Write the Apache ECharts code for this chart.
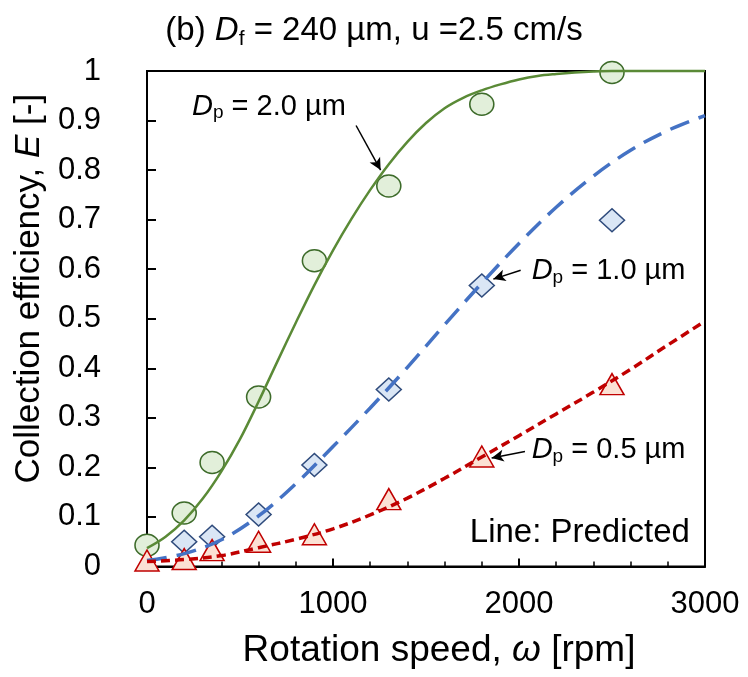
<!DOCTYPE html>
<html><head><meta charset="utf-8">
<script src="https://cdn.jsdelivr.net/npm/echarts/dist/echarts.min.js"></script>
<style>html,body{margin:0;padding:0;background:#fff}#c{width:748px;height:677px}</style>
</head><body><div id="c"></div>
<script>
// ---- measured data ----
const rpmMeasured = [0, 200, 350, 600, 900, 1300, 1800, 2500];
const effMeasured20 = [0.043, 0.108, 0.21, 0.342, 0.617, 0.768, 0.933, 0.997];
const rpmMeasured10 = [200, 350, 600, 900, 1300, 1800, 2500];
const effMeasured10 = [0.05, 0.06, 0.105, 0.205, 0.357, 0.567, 0.699];
const effMeasured05 = [0.012, 0.015, 0.033, 0.05, 0.065, 0.136, 0.222, 0.368];

// ---- predicted curves ----
const rpmPred20 = [0,100,200,300,400,500,600,700,800,900,1000,1100,1200,1300,1400,1500,1600,1700,1800,1900,2000,2100,2200,2300,2400,2500,2600,2700,2800,2900,3000];
const effPred20 = [0.037,0.06,0.093,0.137,0.192,0.257,0.333,0.413,0.492,0.568,0.638,0.702,0.76,0.812,0.857,0.895,0.925,0.946,0.961,0.973,0.983,0.99,0.994,0.997,0.999,1.0,1.0,1.0,1.0,1.0,1.0];
const rpmPred10 = [0,200,400,600,800,1000,1200,1400,1600,1800,2000,2200,2400,2600,2800,3000];
const effPred10 = [0.012,0.026,0.054,0.102,0.167,0.242,0.32,0.402,0.488,0.572,0.652,0.725,0.788,0.84,0.88,0.91];
const rpmPred05 = [0,200,400,600,800,1000,1200,1400,1600,1800,2000,2200,2400,2600,2800,3000];
const effPred05 = [0.01,0.014,0.022,0.038,0.055,0.076,0.104,0.138,0.178,0.221,0.264,0.308,0.352,0.398,0.447,0.495];

// ---- text ----
const titleText = '(b) {i|D}{sub|f} = 240 µm, u =2.5 cm/s';
const xName = 'Rotation speed, {i|ω} [rpm]';
const yName = 'Collection efficiency, {i|E} [-]';
const annotTexts = ['{i|D}{sub|p}{t| = 2.0 µm}', '{i|D}{sub|p}{t| = 1.0 µm}', '{i|D}{sub|p}{t| = 0.5 µm}', '{big|Line: Predicted}'];
const annotAnchors = [[242, 0.928], [2068, 0.596], [2068, 0.235], [2919, 0.067]];
const arrowLines = [
  [[1124, 0.89], [1256, 0.80]],
  [[2009, 0.598], [1862, 0.580]],
  [[2032, 0.232], [1853, 0.219]]
];

const FONT = '"Liberation Sans", Arial, sans-serif';
const zip = (xs, ys) => xs.map((x, i) => [x, ys[i]]);

const chart = echarts.init(document.getElementById('c'), null, {renderer: 'canvas'});

chart.setOption({
  animation: false,
  backgroundColor: '#fff',
  title: {
    text: titleText,
    left: 'center',
    top: 7,
    textStyle: {
      fontFamily: FONT, fontSize: 33, fontWeight: 'normal', color: '#000', lineHeight: 38,
      rich: {
        i: {fontFamily: FONT, fontSize: 33, fontStyle: 'italic', color: '#000', lineHeight: 38},
        sub: {fontFamily: FONT, fontSize: 21, color: '#000', lineHeight: 21, verticalAlign: 'bottom'}
      }
    }
  },
  grid: {left: 147, right: 43, top: 71, bottom: 110.5, show: true, borderColor: '#000', borderWidth: 2, outerBoundsMode: 'none', containLabel: false},
  xAxis: {
    type: 'value', min: 0, max: 3000, interval: 1000,
    name: xName, nameLocation: 'middle', nameGap: 66,
    nameTextStyle: {
      fontFamily: FONT, fontSize: 37, color: '#000', padding: [0, 0, 0, 26],
      rich: {i: {fontFamily: FONT, fontSize: 37, fontStyle: 'italic', color: '#000'}}
    },
    axisLine: {show: true, onZero: false, lineStyle: {color: '#000', width: 2}},
    axisTick: {show: true, inside: true, length: 8, lineStyle: {color: '#000', width: 2}},
    minorTick: {show: true, splitNumber: 5, length: 5, lineStyle: {color: '#000', width: 1.5}},
    splitLine: {show: false},
    minorSplitLine: {show: false},
    axisLabel: {fontFamily: FONT, fontSize: 31, color: '#000', margin: 22, showMinLabel: true, showMaxLabel: true,
      formatter: v => String(v)}
  },
  yAxis: {
    type: 'value', min: 0, max: 1, interval: 0.1,
    name: yName, nameLocation: 'middle', nameGap: 96, nameRotate: 90,
    nameTextStyle: {
      fontFamily: FONT, fontSize: 35, color: '#000', padding: [0, 0, 0, 60],
      rich: {i: {fontFamily: FONT, fontSize: 35, fontStyle: 'italic', color: '#000'}}
    },
    axisLine: {show: true, onZero: false, lineStyle: {color: '#000', width: 2}},
    axisTick: {show: true, inside: true, length: 9, lineStyle: {color: '#000', width: 2}},
    splitLine: {show: false},
    axisLabel: {fontFamily: FONT, fontSize: 31, color: '#000', margin: 38, padding: [0, 8, 0, 0], showMinLabel: true, showMaxLabel: true,
      formatter: v => String(Math.round(v * 10) / 10)}
  },
  series: [
    {
      name: 'Dp 2.0 measured', type: 'scatter', z: 2, clip: false,
      data: zip(rpmMeasured, effMeasured20), symbol: 'circle', symbolSize: [24, 22],
      itemStyle: {color: '#e2efda', borderColor: '#3d6b2a', borderWidth: 1.5, opacity: 1}
    },
    {
      name: 'Dp 1.0 measured', type: 'scatter', z: 2, clip: false,
      data: zip(rpmMeasured10, effMeasured10), symbol: 'diamond', symbolSize: [25, 23],
      itemStyle: {color: '#dae6f5', borderColor: '#2f4b7c', borderWidth: 1.5, opacity: 1}
    },
    {
      name: 'Dp 0.5 measured', type: 'scatter', z: 2, clip: false,
      data: zip(rpmMeasured, effMeasured05), symbol: 'triangle', symbolSize: [24, 21],
      itemStyle: {color: '#fbe1d4', borderColor: '#c00000', borderWidth: 1.5, opacity: 1}
    },
    {
      name: 'Dp 2.0 predicted', type: 'line', z: 3, smooth: 0.35, showSymbol: false, symbol: 'none',
      data: zip(rpmPred20, effPred20), clip: false,
      lineStyle: {color: '#5a8a36', width: 2.5, type: 'solid'}
    },
    {
      name: 'Dp 1.0 predicted', type: 'line', z: 3, smooth: 0.35, showSymbol: false, symbol: 'none',
      data: zip(rpmPred10, effPred10), clip: false,
      lineStyle: {color: '#4472c4', width: 3.5, type: [20, 10], cap: 'butt'}
    },
    {
      name: 'Dp 0.5 predicted', type: 'line', z: 3, smooth: 0.35, showSymbol: false, symbol: 'none',
      data: zip(rpmPred05, effPred05), clip: false,
      lineStyle: {color: '#c00000', width: 3.5, type: [9, 5], cap: 'butt'}
    },
    {
      name: 'annotations', type: 'scatter', z: 4, symbolSize: 0, silent: true, clip: false,
      itemStyle: {opacity: 1, color: '#000'},
      label: {
        show: true, distance: 0, color: '#000', fontFamily: FONT, fontSize: 29, lineHeight: 32,
        formatter: p => annotTexts[p.dataIndex],
        position: 'right',
        rich: {
          t: {fontFamily: FONT, fontSize: 29, color: '#000', lineHeight: 32},
          i: {fontFamily: FONT, fontSize: 29, fontStyle: 'italic', color: '#000', lineHeight: 32},
          sub: {fontFamily: FONT, fontSize: 19, color: '#000', lineHeight: 19, verticalAlign: 'bottom'},
          big: {fontFamily: FONT, fontSize: 33, color: '#000', lineHeight: 36}
        }
      },
      data: annotAnchors.map((p, k) => k === 3 ? {value: p, label: {position: 'left'}} : {value: p}),
      markLine: {
        silent: true, animation: false,
        symbol: ['none', 'arrow'], symbolSize: [9, 12],
        lineStyle: {color: '#000', width: 1.5, type: 'solid', opacity: 1},
        itemStyle: {color: '#000', opacity: 1},
        label: {show: false},
        data: arrowLines.map(a => [{coord: a[0]}, {coord: a[1]}])
      }
    }
  ]
});
</script></body></html>
